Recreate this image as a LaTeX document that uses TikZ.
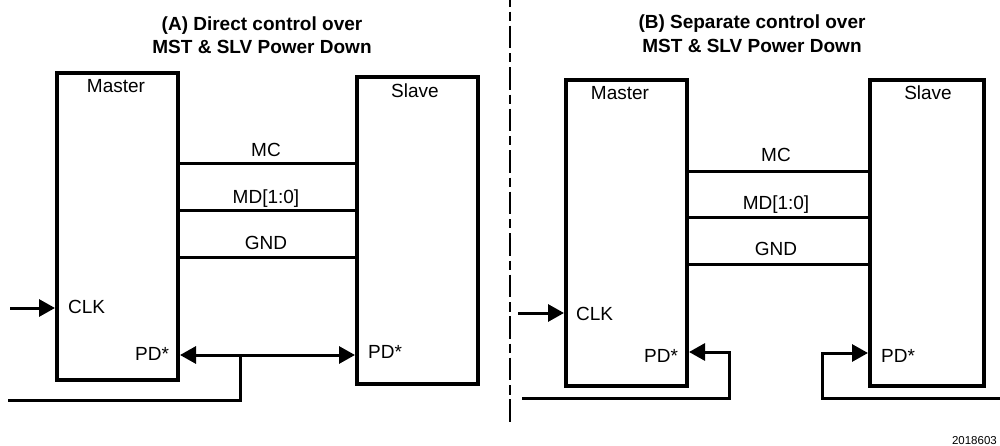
\documentclass[tikz,border=0pt]{standalone}
\usepackage{fontspec}
\setmainfont{Liberation Sans}
\usetikzlibrary{arrows.meta}
\begin{document}
\begin{tikzpicture}[x=1pt,y=-1pt,
  blk/.style={draw, line width=4pt, inner sep=0pt, anchor=north west},
  sig/.style={line width=3pt},
  tip/.style={-{Triangle[length=16pt,width=17pt]}},
  lbl/.style={font=\fontsize{19}{22}\selectfont, inner sep=0pt},
  ttl/.style={font=\fontsize{19}{22}\selectfont\bfseries, inner sep=0pt, anchor=base}]
\useasboundingbox (0,0) rectangle (1000,446);
% ---- titles
\node[ttl] (ta1) at (262,31) {(A) Direct control over};
\node[ttl] (ta2) at (262,54) {MST \& SLV Power Down};
\node[ttl] (tb1) at (752,29) {(B) Separate control over};
\node[ttl] (tb2) at (752,53) {MST \& SLV Power Down};
% ---- divider
\coordinate (dtop) at (510,0);
\coordinate (dbot) at (510,423);
\draw[line width=2.5pt, dash pattern=on 22.7pt off 4.8pt on 9.3pt off 4.7pt, dash phase=15.8pt] (dtop) -- (dbot);
% ---- boxes (A)
\node[blk, minimum width=121pt, minimum height=307pt] (m1) at (55,71) {};
\node[blk, minimum width=121pt, minimum height=307pt] (s1) at (355,75) {};
% ---- boxes (B)
\node[blk, minimum width=121pt, minimum height=306pt] (m2) at (564,78) {};
\node[blk, minimum width=114pt, minimum height=306pt] (s2) at (868,78) {};
% ---- box labels
\node[lbl, anchor=base] (m1t) at (116,93) {Master};
\node[lbl, anchor=base] (s1t) at (415,97.5) {Slave};
\node[lbl, anchor=base] (m2t) at (620,100) {Master};
\node[lbl, anchor=base] (s2t) at (928,100) {Slave};
% ---- buses (A)
\draw[sig] (m1.east |- 0,164) -- (s1.west |- 0,164);
\draw[sig] (m1.east |- 0,211) -- (s1.west |- 0,211);
\draw[sig] (m1.east |- 0,257) -- (s1.west |- 0,257);
\node[lbl, anchor=base] (amc) at (266,156.5) {MC};
\node[lbl, anchor=base] (amd) at (266,204) {MD[1:0]};
\node[lbl, anchor=base] (agnd) at (266,249) {GND};
% ---- buses (B)
\draw[sig] (m2.east |- 0,172) -- (s2.west |- 0,172);
\draw[sig] (m2.east |- 0,218) -- (s2.west |- 0,218);
\draw[sig] (m2.east |- 0,264) -- (s2.west |- 0,264);
\node[lbl, anchor=base] (bmc) at (776,162) {MC};
\node[lbl, anchor=base] (bmd) at (776,210) {MD[1:0]};
\node[lbl, anchor=base] (bgnd) at (776,255) {GND};
% ---- CLK
\coordinate (aclk) at (10,308);
\coordinate (bclk) at (518,313);
\draw[sig, tip] (aclk) -- (m1.west |- aclk);
\draw[sig, tip] (bclk) -- (m2.west |- bclk);
\node[lbl, anchor=base west] (aclkt) at (68,313.3) {CLK};
\node[lbl, anchor=base west] (bclkt) at (576,320) {CLK};
% ---- PD* labels
\node[lbl, anchor=base west] (apdm) at (135,360) {PD*};
\node[lbl, anchor=base west] (apds) at (368,358) {PD*};
\node[lbl, anchor=base west] (bpdm) at (644,362) {PD*};
\node[lbl, anchor=base west] (bpds) at (881,362) {PD*};
% ---- PD* wiring (A)
\draw[sig, {Triangle[length=16pt,width=17pt]}-{Triangle[length=16pt,width=17pt]}] (m1.east |- 0,355) -- (s1.west |- 0,355);
\coordinate (aj) at (240,355);
\coordinate (ain) at (8,400);
\draw[sig] (aj) |- (ain);
% ---- PD* wiring (B)
\coordinate (bin) at (522,398);
\coordinate (bm) at (729,398);
\draw[sig, tip] (bin) -- (bm) -- (bm |- 0,352) -- (m2.east |- 0,352);
\coordinate (bsin) at (1000,398);
\coordinate (bs) at (822,398);
\draw[sig, tip] (bsin) -- (bs) -- (bs |- 0,353) -- (s2.west |- 0,353);
% ---- figure number
\node[font=\fontsize{11.5}{13}\selectfont, inner sep=0pt, anchor=base east] (fig) at (997,444) {2018603};
\end{tikzpicture}
\end{document}
